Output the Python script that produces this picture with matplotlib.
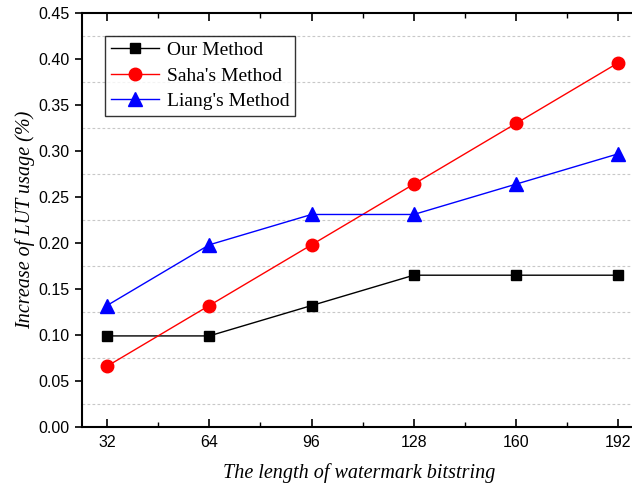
import matplotlib
matplotlib.use("Agg")
import matplotlib.pyplot as plt
from matplotlib.ticker import MultipleLocator

x_bits = [32, 64, 96, 128, 160, 192]
our_method = [0.099, 0.099, 0.132, 0.165, 0.165, 0.165]
saha_method = [0.066, 0.132, 0.198, 0.264, 0.330, 0.396]
liang_method = [0.132, 0.198, 0.231, 0.231, 0.264, 0.297]
series_labels = ["Our Method", "Saha's Method", "Liang's Method"]

serif = ["Liberation Serif", "DejaVu Serif"]
sans = ["Liberation Sans", "DejaVu Sans"]

fig = plt.figure(figsize=(6.32, 4.92), dpi=100)
ax = fig.add_axes([82/632, 1 - 427/492, (636 - 82)/632, (427 - 13)/492])

ax.plot(x_bits, our_method, color="black", marker="s", markersize=7.5, lw=1.0,
        label=series_labels[0])
ax.plot(x_bits, saha_method, color="red", marker="o", markersize=9, lw=1.0,
        label=series_labels[1])
ax.plot(x_bits, liang_method, color="blue", marker="^", markersize=9.5, lw=1.0,
        label=series_labels[2])

ax.set_xlim(24.2, 197.5)
ax.set_ylim(0, 0.45)
ax.xaxis.set_major_locator(MultipleLocator(32))
ax.xaxis.set_minor_locator(MultipleLocator(16))
ax.yaxis.set_major_locator(MultipleLocator(0.05))
ax.yaxis.set_minor_locator(MultipleLocator(0.025))
ax.set_xticks(x_bits)
ax.set_xticklabels([str(v) for v in x_bits], family=sans, fontsize=11.5)
ax.set_yticklabels([f"{v:.2f}" for v in ax.get_yticks()], family=sans, fontsize=11.5)

# dashed grid at minor positions only
for yv in [0.025 + 0.05 * k for k in range(9)]:
    ax.axhline(yv, color="#c8c8c8", lw=0.8, ls=(0, (2.5, 2)), zorder=0)

ax.tick_params(axis="x", which="both", direction="in", top=True, bottom=True, pad=6)
ax.tick_params(axis="x", which="major", length=6, width=1.2)
ax.tick_params(axis="x", which="minor", length=3.5, width=1.0)
ax.tick_params(axis="y", which="major", direction="out", length=5, width=1.2, pad=4)
ax.tick_params(axis="y", which="minor", length=0)

for s in ax.spines.values():
    s.set_linewidth(1.5)
ax.spines["right"].set_visible(False)

ax.set_xlabel("The length of watermark bitstring", family=serif, style="italic",
              fontsize=14.5, labelpad=9)
ax.set_ylabel("Increase of LUT usage (%)", family=serif, style="italic",
              fontsize=14.5, labelpad=2)

leg = ax.legend(loc="upper left", bbox_to_anchor=(0.041, 0.945), prop={"family": serif, "size": 14},
                frameon=True, fancybox=False, edgecolor="black", borderpad=0.3,
                handlelength=2.5, labelspacing=0.4, handletextpad=0.4, borderaxespad=0)
leg.get_frame().set_linewidth(1.0)

fig.savefig("out.png", dpi=100)
